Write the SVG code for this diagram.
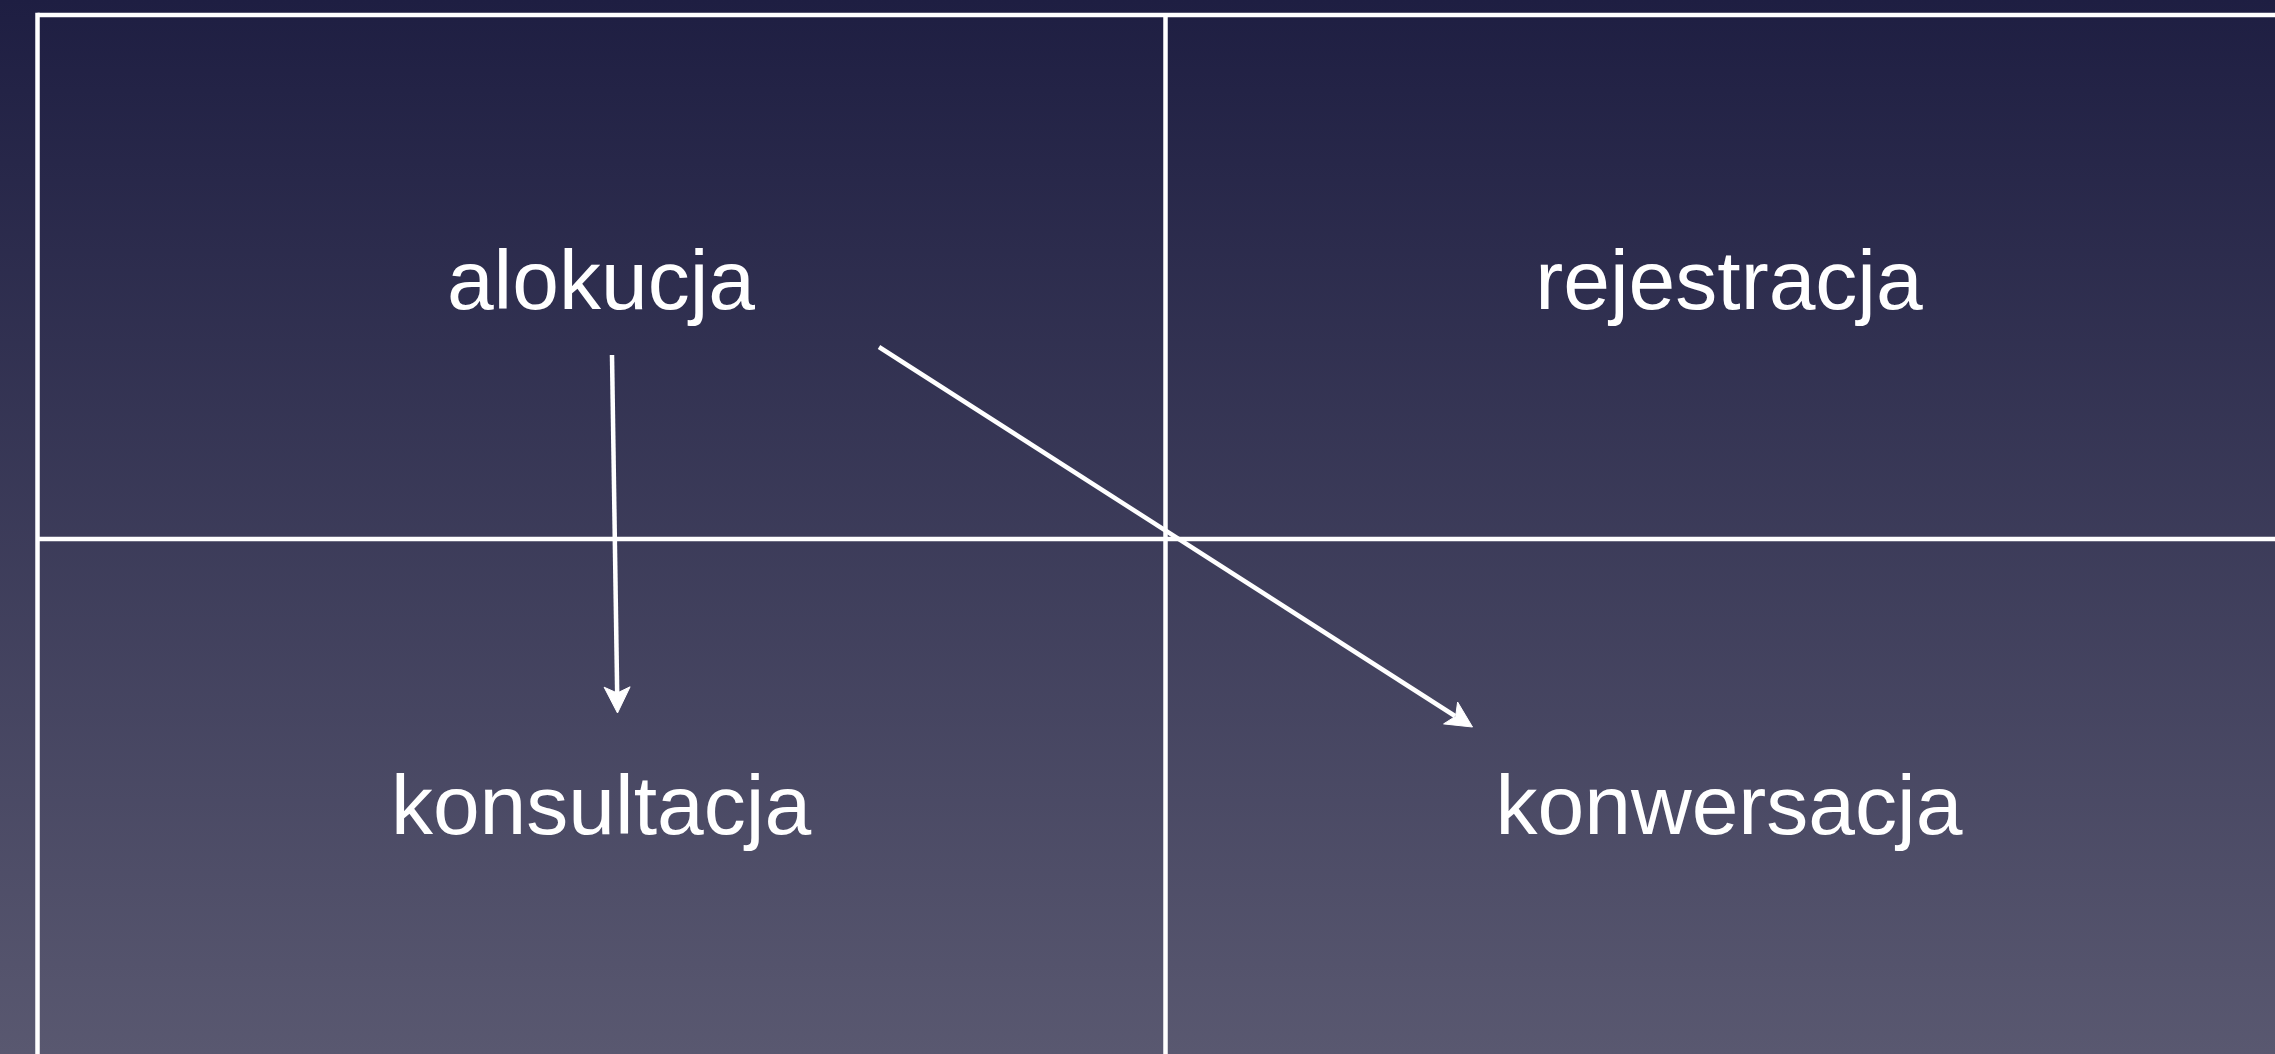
<svg xmlns="http://www.w3.org/2000/svg" width="2275" height="1054" viewBox="0 0 2275 1054">
  <defs>
    <linearGradient id="bg" x1="0" y1="0" x2="0" y2="1">
      <stop offset="0" stop-color="#1e1e42"/>
      <stop offset="1" stop-color="#595870"/>
    </linearGradient>
    <style>
      .frame { stroke: #ffffff; stroke-width: 4.5; fill: none; }
      .conn { stroke: #ffffff; stroke-width: 4.5; fill: none; }
      .head { fill: #ffffff; stroke: #ffffff; stroke-width: 1; stroke-linejoin: miter; }
      .label { font-family: "Liberation Sans", Arial, Helvetica, sans-serif; font-size: 84px; fill: #ffffff; text-anchor: middle; }
    </style>
  </defs>
  <rect x="0" y="0" width="2275" height="1054" fill="url(#bg)"/>
  <g id="grid">
    <line class="frame" x1="37.5" y1="15" x2="2275" y2="15"/>
    <line class="frame" x1="37.5" y1="12.75" x2="37.5" y2="1054"/>
    <line class="frame" x1="1165.5" y1="15" x2="1165.5" y2="1054"/>
    <line class="frame" x1="37.5" y1="539" x2="2275" y2="539"/>
  </g>
  <g id="node-alokucja"><text class="label" x="601" y="309">alokucja</text></g>
  <g id="node-rejestracja"><text class="label" x="1729" y="309">rejestracja</text></g>
  <g id="node-konsultacja"><text class="label" x="601" y="834">konsultacja</text></g>
  <g id="node-konwersacja"><text class="label" x="1729" y="834">konwersacja</text></g>
  <g id="connectors">
    <line class="conn" x1="612" y1="355" x2="617.2" y2="695"/>
    <polygon class="head" points="617.5,713 604.1,687.2 617.2,693 630.1,686.8"/>
    <line class="conn" x1="879" y1="347" x2="1455" y2="716"/>
    <polygon class="head" points="1472.5,727 1443.6,723.9 1455.7,716.2 1457.6,702"/>
  </g>
</svg>
